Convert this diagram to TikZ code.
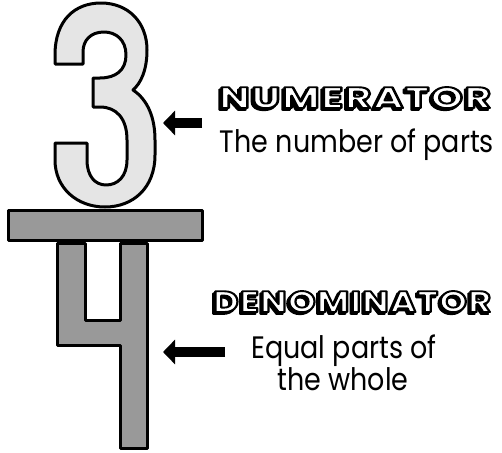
\documentclass[tikz,border=0pt]{standalone}
\usepackage{fontspec}
\setmainfont{Poppins}
\newfontfamily\headfont[LetterSpace=4]{Poppins}
\newfontfamily\descfont[FakeStretch=0.87]{Poppins}
\usetikzlibrary{arrows.meta}

\tikzset{
  digit/.style={draw=black, line width=3pt, line join=round},
  pointer/.style={line width=10pt, -{Triangle[length=12pt,width=24pt]}},
  headtext/.style={font=\headfont\bfseries\fontsize{28}{28}\selectfont, anchor=base west, inner sep=0pt},
  desctext/.style={font=\descfont\fontsize{31}{31}\selectfont, anchor=base, inner sep=0pt}
}

% text drawn as fill + black stroke, stretched to a given size
\newcommand{\stroked}[3]{\resizebox{#1}{#2}{\special{pdf:literal direct 2 Tr 1.8 w 0 G 1 j}#3\special{pdf:literal direct 0 Tr}}}

\begin{document}
\begin{tikzpicture}[x=1pt, y=-1pt]
  \useasboundingbox (0,0) rectangle (502,452);

  % numerator 3
  \draw[digit, fill=black!10]
    (55,64) -- (55,55) .. controls (55,20) and (75,3) .. (101,3)
    .. controls (128,3) and (147,22) .. (147,50)
    .. controls (147,70) and (141,83) .. (133,90)
    .. controls (148,100) and (155,118) .. (155,140)
    -- (155,155) .. controls (155,188) and (133,207) .. (105,207)
    .. controls (77,207) and (55,188) .. (55,160)
    -- (55,143) -- (87,143) -- (87,160)
    .. controls (87,176) and (95,185) .. (106,185)
    .. controls (118,185) and (127,176) .. (127,160)
    -- (127,140) .. controls (127,118) and (116,107) .. (100,107)
    -- (93,107) -- (93,78) -- (100,78)
    .. controls (116,78) and (126,70) .. (126,55)
    .. controls (126,40) and (116,32) .. (104,32)
    .. controls (91,32) and (83,40) .. (83,52)
    -- (83,64) -- cycle;

  % fraction bar
  \draw[digit, fill=black!40] (8,210) rectangle (202,240);

  % denominator 4
  \draw[digit, fill=black!40]
    (57,243) -- (85,243) -- (85,320) -- (120,320) -- (120,243)
    -- (147,243) -- (147,448) -- (120,448) -- (120,345) -- (57,345) -- cycle;

  % pointers
  \coordinate (numtail) at (202,123);
  \coordinate (numtip) at (163,123);
  \coordinate (dentail) at (225,352);
  \coordinate (dentip) at (163,352);
  \draw[pointer] (numtail) -- (numtip);
  \draw[pointer] (dentail) -- (dentip);

  % descriptions
  \node[desctext] (numdesc) at (357,152) {The number of parts};
  \node[desctext] (dendescA) at (344,358) {Equal parts of};
  \node[desctext] (dendescB) at (343,390) {the whole};

  % headings: black shadow, then white face with outline
  \node[headtext, text=black] (numshadow) at (217,110) {\stroked{272pt}{21pt}{NUMERATOR}};
  \node[headtext, text=white] (numhead) at (219,108) {\stroked{272pt}{21pt}{NUMERATOR}};
  \node[headtext, text=black] (denshadow) at (211,314) {\stroked{278pt}{21pt}{DENOMINATOR}};
  \node[headtext, text=white] (denhead) at (213,312) {\stroked{278pt}{21pt}{DENOMINATOR}};
\end{tikzpicture}
\end{document}
